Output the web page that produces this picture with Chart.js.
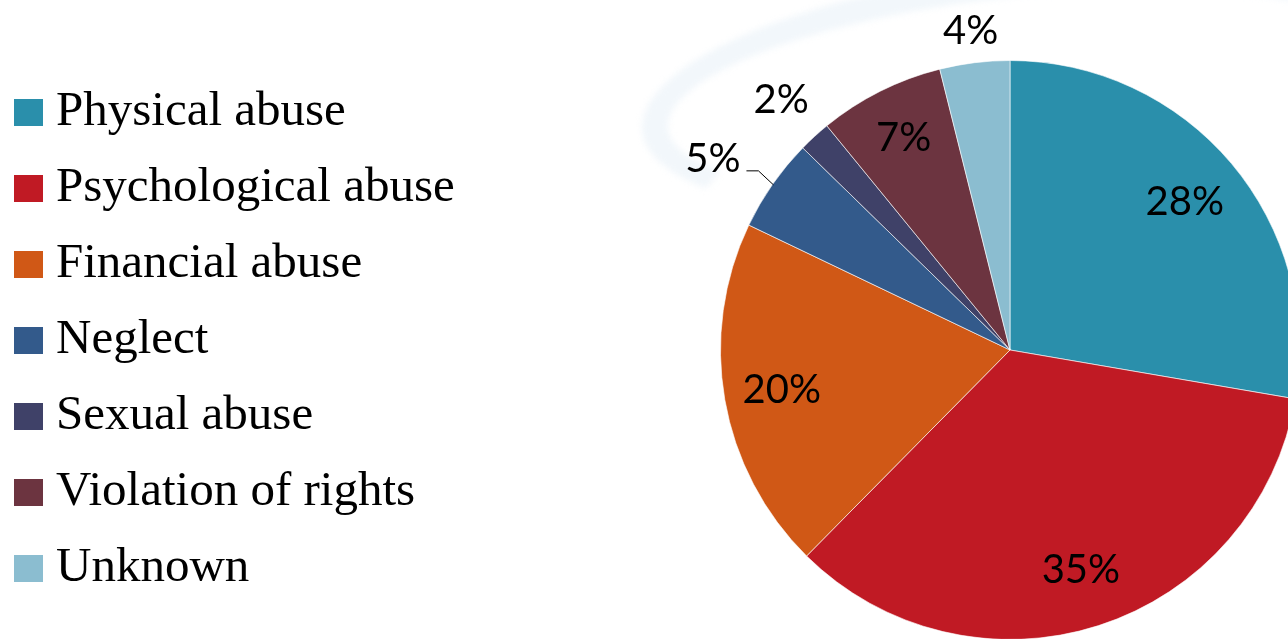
<!DOCTYPE html>
<html>
<head>
<meta charset="utf-8">
<script src="https://cdn.jsdelivr.net/npm/chart.js@4/dist/chart.umd.min.js"></script>
<style>
  html, body { margin: 0; padding: 0; background: #fff; overflow: hidden; width: 1288px; height: 639px; }
  #wrap { position: absolute; left: 0; top: 0; width: 1320px; height: 660px; }
  .swoosh { position: absolute; border-radius: 50%; border: 26px solid #f2f7fb; border-bottom-color: transparent; border-right-color: transparent; filter: blur(3px); }
  #legend { position: absolute; left: 14px; top: 99px; font-family: "Liberation Serif", "Times New Roman", serif; font-size: 49px; color: #000; }
  .row { position: absolute; left: 0; height: 28px; white-space: nowrap; }
  .box { position: absolute; left: 0; top: 0; width: 29px; height: 27px; }
  .txt { position: absolute; left: 42px; top: -15px; line-height: 1; }
</style>
</head>
<body>
<div class="swoosh" style="left:640px;top:-30px;width:720px;height:190px;transform:rotate(-6deg)"></div>
<div id="wrap"><canvas id="chart" width="1320" height="660"></canvas></div>
<div id="legend"></div>
<script>
const categories = ['Physical abuse', 'Psychological abuse', 'Financial abuse', 'Neglect', 'Sexual abuse', 'Violation of rights', 'Unknown'];
const shares = [27.7, 34.7, 19.7, 5.2, 1.8, 7.0, 3.9];
const colors = ['#2a8fab', '#c01a24', '#d05816', '#335a8b', '#3f4168', '#6c3440', '#8bbdd0'];

// legend as html, same order as the slices
const legend = document.getElementById('legend');
categories.forEach((name, i) => {
  const row = document.createElement('div');
  row.className = 'row';
  row.style.top = (i * 76) + 'px';
  row.innerHTML = `<div class="box" style="background:${colors[i]}"></div><div class="txt">${name}</div>`;
  legend.appendChild(row);
});

// where each percentage sits, as a fraction of the radius
const labelRadius = [0.79, 0.8, 0.8, null, 1.17, 0.82, 1.11];

const pctLabels = {
  id: 'pct-labels',
  afterDatasetsDraw(chart) {
    const { ctx } = chart;
    const meta = chart.getDatasetMeta(0);
    ctx.save();
    ctx.fillStyle = '#000';
    ctx.font = '40px Lato, "Open Sans", sans-serif';
    meta.data.forEach((arc, i) => {
      const { x, y, startAngle, endAngle, outerRadius } = arc.getProps(['x', 'y', 'startAngle', 'endAngle', 'outerRadius'], true);
      const mid = (startAngle + endAngle) / 2;
      const text = `${Math.round(shares[i])}%`;
      if (labelRadius[i] === null) {
        // leader line label
        const sx = x + Math.cos(mid) * (outerRadius - 1);
        const sy = y + Math.sin(mid) * (outerRadius - 1);
        const ex = sx - 15, ey = sy - 14;
        ctx.strokeStyle = '#000';
        ctx.lineWidth = 1;
        ctx.beginPath(); ctx.moveTo(sx, sy); ctx.lineTo(ex, ey); ctx.lineTo(ex - 12, ey); ctx.stroke();
        ctx.textAlign = 'right';
        ctx.textBaseline = 'alphabetic';
        ctx.fillText(text, ex - 18, ey + 1);
        return;
      }
      const r = outerRadius * labelRadius[i];
      ctx.textAlign = 'center';
      ctx.textBaseline = 'middle';
      ctx.fillText(text, x + Math.cos(mid) * r, y + Math.sin(mid) * r);
    });
    ctx.restore();
  },
};

new Chart(document.getElementById('chart').getContext('2d'), {
  type: 'pie',
  data: {
    labels: categories,
    datasets: [{
      data: shares,
      backgroundColor: colors,
      borderColor: 'rgba(255,255,255,0.6)',
      borderWidth: 1,
    }],
  },
  options: {
    responsive: false,
    animation: false,
    layout: { padding: { left: 720, right: 20, top: 60, bottom: 20 } },
    plugins: {
      legend: { display: false },
      tooltip: { enabled: false },
    },
  },
  plugins: [pctLabels],
});
</script>
</body>
</html>
